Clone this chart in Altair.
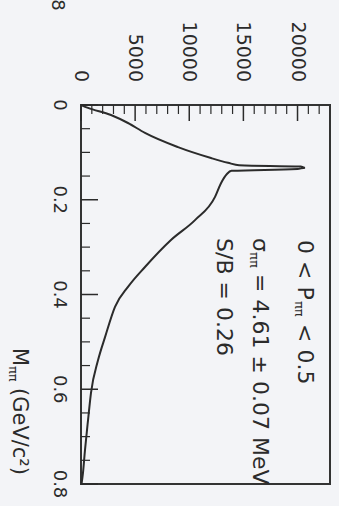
import altair as alt
import pandas as pd

# Invariant mass M_pipi (GeV/c^2) and histogram counts
m_vals = [0.0, 0.006, 0.021, 0.038, 0.059, 0.089, 0.112, 0.122, 0.127, 0.130, 0.1325,
          0.135, 0.139, 0.145, 0.165, 0.194, 0.243, 0.285, 0.342, 0.384, 0.426,
          0.49, 0.539, 0.608, 0.665, 0.728, 0.777, 0.8]
counts = [0, 650, 2770, 4340, 5910, 8960, 12010, 13580, 14600, 20300, 20700,
          20000, 13900, 13500, 12930, 12380, 10530, 8310, 5910, 4340, 3140,
          2220, 1570, 920, 650, 370, 180, 50]

count_major = [0, 5000, 10000, 15000, 20000]
count_labels = ["0", "5000", "10000", "15000", "20000"]
count_minor = [1000, 2000, 3000, 4000, 6000, 7000, 8000, 9000, 11000, 12000, 13000,
               14000, 16000, 17000, 18000, 19000, 21000, 22000]
m_major = [0.0, 0.2, 0.4, 0.6, 0.8]
m_labels = ["0", "0.2", "0.4", "0.6", "0.8"]
m_minor = [0.05, 0.1, 0.15, 0.25, 0.3, 0.35, 0.45, 0.5, 0.55, 0.65, 0.7, 0.75]

# annotation pieces inside the frame
ann_text = ["0 < P", "ππ", "< 0.5", "σ", "ππ", "= 4.61 ± 0.07 MeV", "S/B = 0.26"]
ann_c = [20700, 20700, 20700, 16500, 16500, 16500, 13200]
ann_m = [0.285, 0.285, 0.285, 0.281, 0.281, 0.281, 0.281]
ann_dx = [0, 61, 84, 0, 14, 36, 0]
ann_dy = [0, 6, 0, 0, 6, 0, 0]
ann_size = [22, 13, 22, 22, 13, 22, 22]

# axis title pieces (M_pipi (GeV/c^2))
title_text = ["M", "ππ", "(GeV/c²)"]
title_dx = [0, 18, 40]
title_dy = [0, 6, 0]
title_size = [21, 13, 21]

# cropped fragment of a neighbouring label, top-left corner
fragment_text = ["8"]

FONT = "DejaVu Sans"
INK = "#2b2b2b"

xs = alt.Scale(domain=[0, 23000], nice=False, zero=False)
ys = alt.Scale(domain=[0, 0.8], nice=False, zero=False, reverse=True)

df = pd.DataFrame({"m": m_vals, "c": counts})

curve = alt.Chart(df).mark_line(
    color=INK, strokeWidth=2, orient="vertical", interpolate="monotone"
).encode(
    x=alt.X("c:Q", scale=xs, axis=None),
    y=alt.Y("m:Q", scale=ys, axis=None),
    order="m:Q",
)

top_major = alt.Chart(pd.DataFrame({"c": count_major})).mark_rule(
    color=INK, strokeWidth=1.5).encode(
    x=alt.X("c:Q", scale=xs, axis=None), y=alt.value(0), y2=alt.value(16))
top_minor = alt.Chart(pd.DataFrame({"c": count_minor})).mark_rule(
    color=INK, strokeWidth=1.2).encode(
    x=alt.X("c:Q", scale=xs, axis=None), y=alt.value(0), y2=alt.value(9))
left_major = alt.Chart(pd.DataFrame({"m": m_major})).mark_rule(
    color=INK, strokeWidth=1.5).encode(
    y=alt.Y("m:Q", scale=ys, axis=None), x=alt.value(0), x2=alt.value(17))
left_minor = alt.Chart(pd.DataFrame({"m": m_minor})).mark_rule(
    color=INK, strokeWidth=1.2).encode(
    y=alt.Y("m:Q", scale=ys, axis=None), x=alt.value(0), x2=alt.value(9))

# tick labels
top_labels = alt.Chart(pd.DataFrame({"c": count_major, "t": count_labels})).mark_text(
    angle=90, align="right", baseline="middle", font=FONT, fontSize=19, color=INK
).encode(x=alt.X("c:Q", scale=xs, axis=None), y=alt.value(-23), text="t:N")
left_labels = alt.Chart(pd.DataFrame({"m": m_major, "t": m_labels})).mark_text(
    angle=90, align="center", baseline="top", font=FONT, fontSize=18, color=INK
).encode(y=alt.Y("m:Q", scale=ys, axis=None), x=alt.value(-13), text="t:N")

fragment = alt.Chart(pd.DataFrame({"t": fragment_text})).mark_text(
    angle=90, align="center", baseline="middle", font=FONT, fontSize=18, color=INK
).encode(x=alt.value(-24), y=alt.value(-100), text="t:N")

layers = [curve, top_major, top_minor, left_major, left_minor, top_labels,
          left_labels, fragment]

for i in range(len(title_text)):
    layers.append(alt.Chart(pd.DataFrame({"t": [title_text[i]]})).mark_text(
        angle=90, align="left", baseline="middle", font=FONT,
        fontSize=title_size[i], dx=title_dx[i], dy=title_dy[i], color=INK
    ).encode(x=alt.value(-62), y=alt.value(243), text="t:N"))

for i in range(len(ann_text)):
    row = pd.DataFrame({"t": [ann_text[i]], "c": [ann_c[i]], "m": [ann_m[i]]})
    layers.append(alt.Chart(row).mark_text(
        angle=90, align="left", baseline="middle", font=FONT,
        fontSize=ann_size[i], dx=ann_dx[i], dy=ann_dy[i], color=INK
    ).encode(
        x=alt.X("c:Q", scale=xs, axis=None),
        y=alt.Y("m:Q", scale=ys, axis=None),
        text="t:N"))

chart = alt.layer(*layers).properties(
    width=249, height=379,
    autosize=alt.AutoSizeParams(type="none"),
    padding={"left": 81, "top": 105, "right": 9, "bottom": 22},
    background="#f3f4f7",
).configure_view(stroke="#333333", strokeWidth=2)

chart.save("out.html", embed_options={"renderer": "svg", "actions": False})
